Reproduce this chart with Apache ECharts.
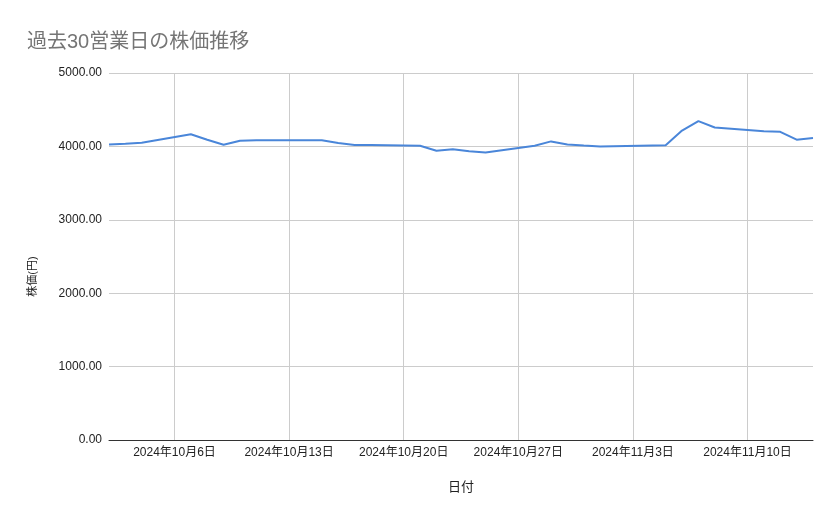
<!DOCTYPE html>
<html>
<head>
<meta charset="utf-8">
<script src="https://cdn.jsdelivr.net/npm/echarts@6/dist/echarts.min.js"></script>
<style>
html,body{margin:0;padding:0;background:#fff;}
#chart{width:839px;height:519px;}
</style>
</head>
<body>
<div id="chart"></div>
<script>
const chartTitle = '過去30営業日の株価推移';
const xAxisName = '日付';
const yAxisName = '株価(円)';
const dates = [
  '2024-10-02','2024-10-03','2024-10-04','2024-10-07','2024-10-08','2024-10-09','2024-10-10','2024-10-11',
  '2024-10-15','2024-10-16','2024-10-17','2024-10-18','2024-10-21','2024-10-22','2024-10-23','2024-10-24',
  '2024-10-25','2024-10-28','2024-10-29','2024-10-30','2024-10-31','2024-11-01','2024-11-05','2024-11-06',
  '2024-11-07','2024-11-08','2024-11-11','2024-11-12','2024-11-13','2024-11-14'
];
const prices = [
  4025, 4037, 4050, 4165, 4090, 4023, 4077, 4083,
  4083, 4045, 4018, 4018, 4008, 3940, 3962, 3935,
  3918, 4008, 4068, 4027, 4012, 4000, 4015, 4215,
  4345, 4258, 4208, 4198, 4091, 4113
];
const xStart = '2024-10-02';
const xEnd = '2024-11-14';
const xTickDates = ['2024-10-06','2024-10-13','2024-10-20','2024-10-27','2024-11-03','2024-11-10'];
const yTicks = [0, 1000, 2000, 3000, 4000, 5000];

const refSunday = Date.UTC(2024, 8, 29);
const DAY = 86400000;
function dayNum(s) {
  const p = s.split('-').map(Number);
  return Math.round((Date.UTC(p[0], p[1] - 1, p[2]) - refSunday) / DAY);
}
function dayLabel(v) {
  const d = new Date(refSunday + v * DAY);
  return d.getUTCFullYear() + '年' + (d.getUTCMonth() + 1) + '月' + d.getUTCDate() + '日';
}
const xTickValues = xTickDates.map(dayNum);

const FONT = '"Liberation Sans", Arial, "Noto Sans CJK JP", sans-serif';
const chart = echarts.init(document.getElementById('chart'), null, {renderer: 'canvas'});
chart.setOption({
  animation: false,
  backgroundColor: '#ffffff',
  textStyle: {fontFamily: FONT},
  title: {
    text: chartTitle,
    left: 22,
    top: 27,
    textStyle: {fontFamily: FONT, fontSize: 20, fontWeight: 'normal', color: '#757575'}
  },
  grid: {left: 109, right: 26, top: 73, bottom: 79, containLabel: false},
  xAxis: {
    type: 'value',
    min: dayNum(xStart),
    max: dayNum(xEnd),
    name: xAxisName,
    nameLocation: 'middle',
    nameGap: 41,
    nameTextStyle: {fontFamily: FONT, fontSize: 13, color: '#222222'},
    axisLine: {show: true, lineStyle: {color: '#333333', width: 1}},
    axisTick: {show: false, customValues: xTickValues},
    axisLabel: {
      customValues: xTickValues,
      margin: 7,
      fontFamily: FONT,
      fontSize: 12,
      color: '#222222',
      formatter: function (v) { return dayLabel(v); }
    },
    splitLine: {show: true, lineStyle: {color: '#cccccc', width: 1}}
  },
  yAxis: {
    type: 'value',
    min: yTicks[0],
    max: yTicks[yTicks.length - 1],
    interval: yTicks[1] - yTicks[0],
    name: yAxisName,
    nameLocation: 'middle',
    nameGap: 71,
    nameRotate: 90,
    nameTextStyle: {fontFamily: FONT, fontSize: 11, color: '#222222', padding: [0, 40, 0, 0]},
    axisLine: {show: false},
    axisTick: {show: false},
    axisLabel: {
      margin: 7,
      fontFamily: FONT,
      fontSize: 12,
      color: '#222222',
      formatter: function (v) { return v.toFixed(2); }
    },
    splitLine: {show: true, lineStyle: {color: '#cccccc', width: 1}}
  },
  series: [{
    type: 'line',
    data: dates.map(function (d, i) { return [dayNum(d), prices[i]]; }),
    showSymbol: false,
    symbol: 'none',
    lineStyle: {color: '#4a86d9', width: 2},
    itemStyle: {color: '#4a86d9'}
  }]
});
</script>
</body>
</html>
